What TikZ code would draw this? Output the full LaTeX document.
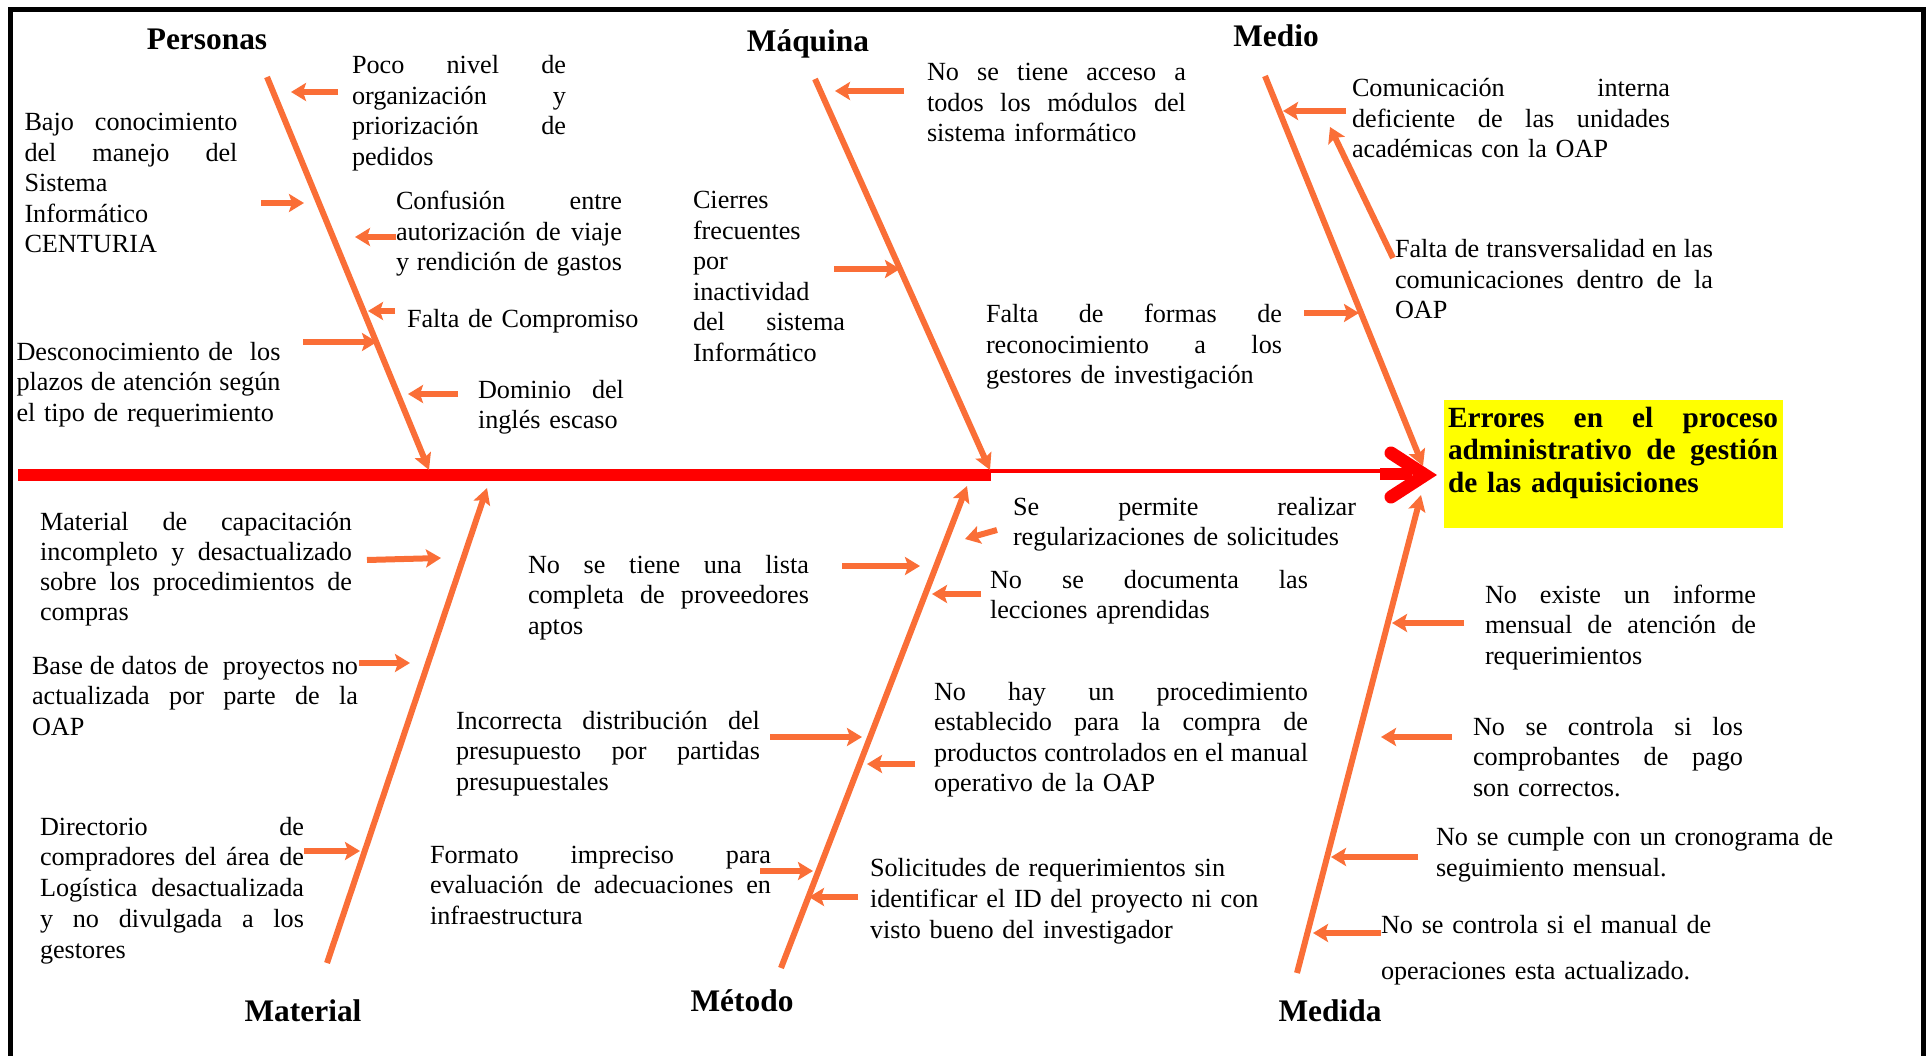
\documentclass[tikz,border=0pt]{standalone}
\usepackage{fontspec}
\setmainfont{Liberation Serif}
\usetikzlibrary{arrows.meta}
\definecolor{bonec}{HTML}{FA6E37}
\definecolor{effectbg}{HTML}{FFFF00}
% one fully justified line of a cause text: interword spaces stretch to the full width
\newcommand\jl[1]{{\spaceskip=\fontdimen2\font plus 1fil minus 0.3\fontdimen2\font
  \makebox[\hsize][s]{#1}}}

\begin{document}
\begin{tikzpicture}[x=1pt,y=-1pt,
  txt/.style={inner sep=0pt, outer sep=0pt, anchor=base west, align=left,
              font=\fontsize{26.2}{30.5}\selectfont},
  cat/.style={inner sep=0pt, anchor=base, font=\bfseries\fontsize{31.4}{36}\selectfont},
  bone/.style={draw=bonec, line width=6pt, -{Stealth[length=16pt,width=17pt,inset=3pt]}},
  cause/.style={draw=bonec, line width=6pt, -{Stealth[length=15pt,width=18pt,inset=3pt]}},
  frame/.style={draw=black, line width=5pt},
]
\useasboundingbox (0,0) rectangle (1932,1056);

% outer frame (open at the bottom)
\coordinate (fBL) at (10,1062); \coordinate (fTL) at (10,10);
\coordinate (fTR) at (1923,10); \coordinate (fBR) at (1923,1062);
\draw[frame] (fBL) -- (fTL) -- (fTR) -- (fBR);

% effect box
\node[fill=effectbg, minimum width=339pt, minimum height=128pt, inner sep=0pt,
      anchor=north west] (effbox) at (1444,400) {};
\node[txt, text width=330pt, font=\bfseries\fontsize{29.3}{32.7}\selectfont] (eff) at (1448,427)
  {\jl{Errores en el proceso}\\\jl{administrativo de gestión}\\de las adquisiciones};

% main spine
\coordinate (spL) at (18,475); \coordinate (spM) at (991,475);
\coordinate (spT) at (991,471); \coordinate (spE) at (1382,471);
\coordinate (chA) at (1391,453); \coordinate (chT) at (1425,475); \coordinate (chB) at (1391,497);
\draw[red, line width=12pt] (spL) -- (spM);
\draw[red, line width=4.5pt] (spT) -- (spE);
\fill[red] (1380,468) rectangle (1412,480);
\draw[red, line width=13pt, line cap=round, line join=miter] (chA) -- (chT) -- (chB);

% category headings
\node[cat] (tPer) at (207,50) {Personas};
\node[cat] (tMaq) at (808,52) {Máquina};
\node[cat] (tMed) at (1276,46.5) {Medio};
\node[cat] (tMat) at (303,1021) {Material};
\node[cat] (tMet) at (742,1011) {Método};
\node[cat] (tMdd) at (1330,1021) {Medida};

% bones
\coordinate (perA) at (267,77);   \coordinate (perB) at (429,470);
\coordinate (maqA) at (815,79);   \coordinate (maqB) at (990,470);
\coordinate (medA) at (1265,76);  \coordinate (medB) at (1423,466);
\coordinate (matA) at (327,963);  \coordinate (matB) at (487,488);
\coordinate (metA) at (781,968);  \coordinate (metB) at (967,486);
\coordinate (mddA) at (1297,973); \coordinate (mddB) at (1421,495);
\draw[bone] (perA) -- (perB);
\draw[bone] (maqA) -- (maqB);
\draw[bone] (medA) -- (medB);
\draw[bone] (matA) -- (matB);
\draw[bone] (metA) -- (metB);
\draw[bone] (mddA) -- (mddB);

% ---- Personas
\node[txt, text width=214pt] (p1) at (352,74)
  {\jl{Poco nivel de}\\\jl{organización y}\\\jl{priorización de}\\pedidos};
\node[txt, text width=213pt] (p2) at (24.5,131)
  {\jl{Bajo conocimiento}\\\jl{del manejo del}\\Sistema\\Informático\\CENTURIA};
\node[txt, text width=226pt] (p3) at (396,210)
  {\jl{Confusión entre}\\\jl{autorización de viaje}\\\jl{y rendición de gastos}};
\node[txt, text width=260pt] (p4) at (407,328) {Falta de Compromiso};
\node[txt, text width=264pt] (p5) at (16.5,360)
  {\jl{Desconocimiento de\ \ los}\\\jl{plazos de atención según}\\el tipo de requerimiento};
\node[txt, text width=146pt] (p6) at (478,398)
  {\jl{Dominio del}\\inglés escaso};

% ---- Máquina
\node[txt, text width=259pt] (m1) at (927,81)
  {\jl{No se tiene acceso a}\\\jl{todos los módulos del}\\sistema informático};
\node[txt, text width=152pt] (m2) at (693,209)
  {Cierres\\frecuentes\\por\\inactividad\\\jl{del sistema}\\Informático};
\node[txt, text width=296pt] (m3) at (986,323)
  {\jl{Falta de formas de}\\\jl{reconocimiento a los}\\gestores de investigación};

% ---- Medio
\node[txt, text width=318pt] (d1) at (1352,97)
  {\jl{Comunicación interna}\\\jl{deficiente de las unidades}\\académicas con la OAP};
\node[txt, text width=318pt] (d2) at (1395,258)
  {\jl{Falta de transversalidad en las}\\\jl{comunicaciones dentro de la}\\OAP};

% ---- Material
\node[txt, text width=312pt, font=\fontsize{26.2}{30.1}\selectfont] (l1) at (40,530)
  {\jl{Material de capacitación}\\\jl{incompleto y desactualizado}\\\jl{sobre los procedimientos de}\\compras};
\node[txt, text width=326pt] (l2) at (32,674)
  {\jl{Base de datos de\ \ proyectos no}\\\jl{actualizada por parte de la}\\OAP};
\node[txt, text width=264pt, font=\fontsize{26.2}{30.9}\selectfont] (l3) at (40,835)
  {\jl{Directorio de}\\\jl{compradores del área de}\\\jl{Logística desactualizada}\\\jl{y no divulgada a los}\\gestores};

% ---- Método
\node[txt, text width=281pt] (e1) at (528,573)
  {\jl{No se tiene una lista}\\\jl{completa de proveedores}\\aptos};
\node[txt, text width=304pt] (e2) at (456,729)
  {\jl{Incorrecta distribución del}\\\jl{presupuesto por partidas}\\presupuestales};
\node[txt, text width=341pt] (e3) at (430,863)
  {\jl{Formato impreciso para}\\\jl{evaluación de adecuaciones en}\\infraestructura};
\node[txt, text width=343pt] (e4) at (1013,515)
  {\jl{Se permite realizar}\\regularizaciones de solicitudes};
\node[txt, text width=318pt] (e5) at (990,588)
  {\jl{No se documenta las}\\lecciones aprendidas};
\node[txt, text width=374pt] (e6) at (934,700)
  {\jl{No hay un procedimiento}\\\jl{establecido para la compra de}\\\jl{productos controlados en el manual}\\operativo de la OAP};
\node[txt, text width=440pt, font=\fontsize{26.2}{31}\selectfont] (e7) at (870,876)
  {Solicitudes de requerimientos sin\\identificar el ID del proyecto ni con\\visto bueno del investigador};

% ---- Medida
\node[txt, text width=271pt] (s1) at (1485,603)
  {\jl{No existe un informe}\\\jl{mensual de atención de}\\requerimientos};
\node[txt, text width=270pt] (s2) at (1473,735)
  {\jl{No se controla si los}\\\jl{comprobantes de pago}\\son correctos.};
\node[txt, text width=440pt, font=\fontsize{26.2}{31}\selectfont] (s3) at (1436,845)
  {No se cumple con un cronograma de\\seguimiento mensual.};
\node[txt, text width=440pt, font=\fontsize{26.2}{46}\selectfont] (s4) at (1381,933)
  {No se controla si el manual de\\operaciones esta actualizado.};

% cause arrows (tail -> head on the bone)
\coordinate (a1t) at (338,92);   \coordinate (a1h) at (291,92);
\coordinate (a2t) at (261,203);  \coordinate (a2h) at (304,203);
\coordinate (a3t) at (396,237);  \coordinate (a3h) at (355,237);
\coordinate (a4t) at (395,311);  \coordinate (a4h) at (368,311);
\coordinate (a5t) at (303,342);  \coordinate (a5h) at (377,342);
\coordinate (a6t) at (458,394);  \coordinate (a6h) at (408,394);
\coordinate (a7t) at (904,91);   \coordinate (a7h) at (835,91);
\coordinate (a8t) at (834,269);  \coordinate (a8h) at (900,269);
\coordinate (a9t) at (1304,313); \coordinate (a9h) at (1359,313);
\coordinate (a10t) at (1346,111); \coordinate (a10h) at (1283,111);
\coordinate (a11t) at (1393,258); \coordinate (a11h) at (1330,127);
\coordinate (a12t) at (367,560); \coordinate (a12h) at (441,558);
\coordinate (a13t) at (359,663); \coordinate (a13h) at (410,663);
\coordinate (a14t) at (304,851); \coordinate (a14h) at (360,851);
\coordinate (a15t) at (842,566); \coordinate (a15h) at (920,566);
\coordinate (a16t) at (770,737); \coordinate (a16h) at (862,737);
\coordinate (a17t) at (760,871); \coordinate (a17h) at (813,871);
\coordinate (a18t) at (997,530); \coordinate (a18h) at (965,539);
\coordinate (a19t) at (981,594); \coordinate (a19h) at (932,594);
\coordinate (a20t) at (915,764); \coordinate (a20h) at (867,764);
\coordinate (a21t) at (858,897); \coordinate (a21h) at (809,897);
\coordinate (a22t) at (1464,623); \coordinate (a22h) at (1392,623);
\coordinate (a23t) at (1452,737); \coordinate (a23h) at (1381,737);
\coordinate (a24t) at (1418,857); \coordinate (a24h) at (1331,857);
\coordinate (a25t) at (1381,933); \coordinate (a25h) at (1313,933);
\foreach \i in {1,...,25} { \draw[cause] (a\i t) -- (a\i h); }

\end{tikzpicture}
\end{document}
